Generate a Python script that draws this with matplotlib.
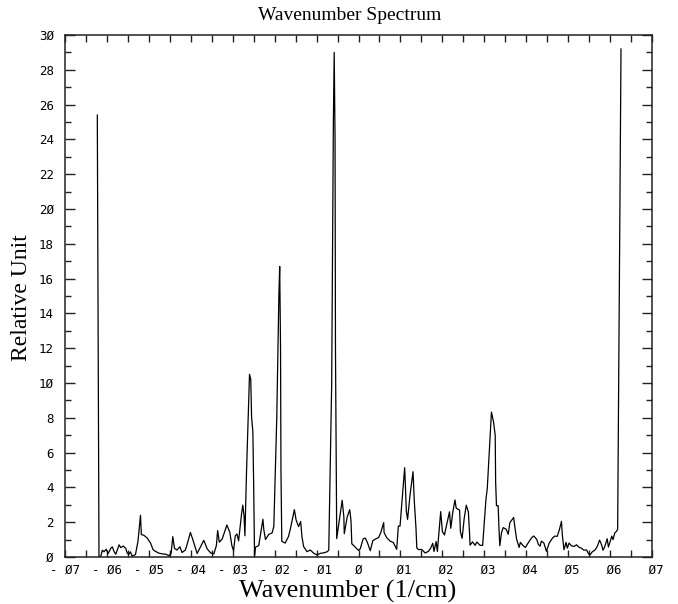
import matplotlib
matplotlib.use("Agg")
import matplotlib.pyplot as plt
import numpy as np
from matplotlib.ticker import MultipleLocator, FixedLocator

# wavenumber (1/cm) and relative amplitude
wavenumber = [
    -0.0623, -0.0619, -0.0615, -0.0611, -0.0607, -0.0602, -0.0597, -0.0591, -0.0587, -0.0583,
    -0.0579, -0.0571, -0.0567, -0.0561, -0.0555, -0.0552, -0.0548, -0.0544, -0.0540, -0.0532,
    -0.0526, -0.0520, -0.0518, -0.0512, -0.0504, -0.0496, -0.0490, -0.0484, -0.0476, -0.0468,
    -0.0460, -0.0452, -0.0447, -0.0443, -0.0439, -0.0433, -0.0426, -0.0421, -0.0413, -0.0407,
    -0.0401, -0.0396, -0.0391, -0.0385, -0.0377, -0.0369, -0.0361, -0.0353, -0.0345, -0.0339,
    -0.0336, -0.0332, -0.0325, -0.0317, -0.0314, -0.0307, -0.0302, -0.0298, -0.0294, -0.0290,
    -0.0286, -0.0279, -0.0276, -0.0273, -0.0271, -0.0267, -0.0262, -0.0260, -0.0257, -0.0255,
    -0.0252, -0.0250, -0.0248, -0.0246, -0.0238, -0.0228, -0.0226, -0.0222, -0.0214, -0.0206,
    -0.0202, -0.0195, -0.0190, -0.0188, -0.0186, -0.0185, -0.0183, -0.0175, -0.0167, -0.0163,
    -0.0153, -0.0149, -0.0143, -0.0138, -0.0135, -0.0131, -0.0123, -0.0115, -0.0107, -0.0099,
    -0.0091, -0.0083, -0.0075, -0.0071, -0.0064, -0.0060, -0.0058, -0.0056, -0.0055, -0.0053,
    -0.0052, -0.0039, -0.0035, -0.0034, -0.0027, -0.0021, -0.0018, -0.0016, -0.0008, 0.0000,
    0.0004, 0.0011, 0.0016, 0.0021, 0.0028, 0.0034, 0.0040, 0.0048, 0.0053, 0.0060,
    0.0061, 0.0067, 0.0075, 0.0083, 0.0091, 0.0095, 0.0099, 0.0110, 0.0112, 0.0114,
    0.0117, 0.0123, 0.0130, 0.0133, 0.0137, 0.0139, 0.0143, 0.0151, 0.0159, 0.0167,
    0.0172, 0.0177, 0.0180, 0.0185, 0.0188, 0.0196, 0.0200, 0.0205, 0.0210, 0.0217,
    0.0220, 0.0225, 0.0230, 0.0233, 0.0241, 0.0243, 0.0247, 0.0252, 0.0257, 0.0262,
    0.0265, 0.0266, 0.0272, 0.0278, 0.0282, 0.0290, 0.0296, 0.0304, 0.0307, 0.0317,
    0.0322, 0.0326, 0.0327, 0.0329, 0.0333, 0.0335, 0.0337, 0.0341, 0.0345, 0.0352,
    0.0357, 0.0361, 0.0370, 0.0373, 0.0377, 0.0383, 0.0386, 0.0393, 0.0398, 0.0405,
    0.0413, 0.0418, 0.0425, 0.0429, 0.0433, 0.0436, 0.0442, 0.0448, 0.0455, 0.0463,
    0.0468, 0.0474, 0.0479, 0.0484, 0.0486, 0.0490, 0.0495, 0.0498, 0.0502, 0.0508,
    0.0514, 0.0520, 0.0526, 0.0532, 0.0537, 0.0544, 0.0548, 0.0552, 0.0558, 0.0564,
    0.0569, 0.0575, 0.0580, 0.0583, 0.0587, 0.0593, 0.0596, 0.0599, 0.0604, 0.0607,
    0.0611, 0.0615, 0.0618, 0.0626,
]
amplitude = [
    25.4, 0.05, 0.02, 0.39, 0.30, 0.45, 0.20, 0.50, 0.58, 0.31,
    0.16, 0.70, 0.54, 0.63, 0.49, 0.24, 0.15, 0.30, 0.05, 0.14,
    0.91, 2.40, 1.29, 1.25, 1.09, 0.80, 0.42, 0.32, 0.22, 0.18,
    0.16, 0.08, 0.21, 1.17, 0.50, 0.40, 0.59, 0.26, 0.40, 0.88,
    1.41, 1.06, 0.68, 0.20, 0.58, 0.96, 0.47, 0.24, 0.18, 0.66,
    1.52, 0.85, 1.04, 1.61, 1.84, 1.42, 0.65, 0.36, 1.22, 1.32,
    0.93, 2.47, 2.98, 2.37, 1.22, 5.0, 9.0, 10.5, 10.2, 8.0,
    7.2, 4.0, 0.10, 0.56, 0.66, 2.17, 1.59, 1.01, 1.30, 1.39,
    1.77, 8.0, 15.0, 16.7, 12.0, 5.0, 0.90, 0.80, 1.18, 1.57,
    2.72, 2.14, 1.75, 2.04, 1.18, 0.60, 0.31, 0.40, 0.22, 0.12,
    0.21, 0.24, 0.30, 0.39, 10.0, 25.0, 29.0, 24.0, 12.0, 4.0,
    1.06, 3.26, 2.30, 1.34, 2.30, 2.72, 2.10, 0.76, 0.57, 0.38,
    0.47, 1.04, 1.09, 0.84, 0.36, 0.93, 1.03, 1.12, 1.40, 1.98,
    1.40, 1.12, 0.92, 0.83, 0.44, 1.78, 1.78, 5.13, 3.98, 2.64,
    2.16, 3.60, 4.90, 3.22, 1.67, 0.52, 0.43, 0.43, 0.23, 0.33,
    0.51, 0.79, 0.32, 0.89, 0.32, 2.61, 1.46, 1.27, 1.84, 2.60,
    1.65, 2.60, 3.28, 2.80, 2.70, 1.45, 1.07, 2.21, 2.98, 2.59,
    1.25, 0.68, 0.87, 0.67, 0.86, 0.67, 0.67, 3.34, 3.91, 8.33,
    7.76, 6.99, 4.30, 2.95, 2.95, 1.61, 0.65, 1.41, 1.69, 1.60,
    1.31, 1.98, 2.27, 1.70, 1.03, 0.55, 0.84, 0.64, 0.55, 0.83,
    1.11, 1.21, 1.01, 0.72, 0.62, 0.91, 0.81, 0.33, 0.81, 1.10,
    1.20, 1.19, 1.57, 2.05, 1.28, 0.42, 0.84, 0.51, 0.80, 0.64,
    0.61, 0.70, 0.56, 0.50, 0.40, 0.40, 0.21, 0.12, 0.31, 0.40,
    0.59, 0.97, 0.68, 0.39, 0.58, 1.05, 0.57, 0.81, 1.20, 1.00,
    1.38, 1.47, 1.60, 29.2,
]

x_ticks = [-0.07, -0.06, -0.05, -0.04, -0.03, -0.02, -0.01, 0.0,
           0.01, 0.02, 0.03, 0.04, 0.05, 0.06, 0.07]
x_ticklabels = ["- Ø7", "- Ø6", "- Ø5", "- Ø4", "- Ø3", "- Ø2", "- Ø1", "Ø",
                " Ø1", " Ø2", " Ø3", " Ø4", " Ø5", " Ø6", " Ø7"]
y_ticks = list(range(0, 31, 2))
y_ticklabels = ["Ø", "2", "4", "6", "8", "1Ø", "12", "14", "16", "18",
                "2Ø", "22", "24", "26", "28", "3Ø"]

fig = plt.figure(figsize=(6.78, 6.04), dpi=100)
ax = fig.add_axes([0.0959, 0.0778, 0.8658, 0.8642])

ax.plot(wavenumber, amplitude, color="black", linewidth=0.9)
ax.set_xlim(-0.07, 0.07)
ax.set_ylim(0, 30)

ax.xaxis.set_major_locator(FixedLocator(x_ticks))
ax.xaxis.set_minor_locator(MultipleLocator(0.005))
ax.set_xticklabels(x_ticklabels, family="DejaVu Sans Mono", fontsize=9)
ax.yaxis.set_major_locator(FixedLocator(y_ticks))
ax.yaxis.set_minor_locator(MultipleLocator(1))
ax.set_yticklabels(y_ticklabels, family="DejaVu Sans Mono", fontsize=9)

ax.tick_params(which="both", direction="in", top=True, right=True, width=1.0, color="#222222")
ax.tick_params(axis="x", which="both", length=5, pad=5)
ax.tick_params(axis="y", which="major", length=7, pad=8)
ax.tick_params(axis="y", which="minor", length=4)
for sp in ax.spines.values():
    sp.set_linewidth(1.1)
    sp.set_color("#222222")

fig.text(350 / 678, 1 - 16 / 604, "Wavenumber Spectrum", ha="center", va="center",
         family="Liberation Serif", fontsize=14)
fig.text(348 / 678, 1 - 598 / 604, "Wavenumber (1/cm)", ha="center", va="baseline",
         family="Liberation Serif", fontsize=19)
fig.text(22 / 678, 1 - 298 / 604, "Relative Unit", ha="center", va="center", rotation=90,
         family="Liberation Serif", fontsize=17)

fig.savefig("out.png", dpi=100)
